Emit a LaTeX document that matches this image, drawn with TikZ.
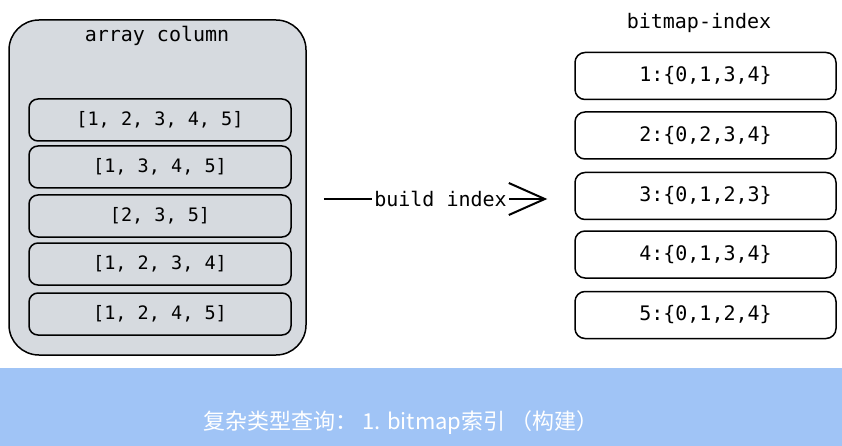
\documentclass[tikz,border=0pt]{standalone}
\usepackage{fontspec}
\setmonofont{DejaVu Sans Mono}
\newfontfamily\cjk{Noto Sans CJK SC}
\usetikzlibrary{arrows.meta}
\definecolor{colgray}{RGB}{214,218,223}
\definecolor{bandblue}{RGB}{160,196,246}

\begin{document}
\begin{tikzpicture}[
x=1pt,y=-1pt,
every node/.style={anchor=center,inner sep=0pt},
title/.style={font=\ttfamily\fontsize{20}{24}\selectfont},
column/.style={draw,line width=1.5pt,fill=colgray,rounded corners=30pt,minimum width=297pt,minimum height=335pt},
cell/.style={draw,line width=1.5pt,rounded corners=9pt,minimum width=262pt,minimum height=42pt,font=\ttfamily\fontsize{18.5}{22}\selectfont},
bit/.style={draw,line width=1.5pt,rounded corners=10pt,minimum width=261pt,minimum height=47pt,font=\ttfamily\fontsize{20}{24}\selectfont},
]
\useasboundingbox (0,0) rectangle (842,446);
%\draw[help lines,step=50](0,0)grid(842,446);

%array column
\node[column] (col) at (157.5,187.5) {};
\node[title] (coltitle) at (157,36) {array column};
\node[cell] (a1) at (160,120) {[1, 2, 3, 4, 5]};
\node[cell] (a2) at (160,167) {[1, 3, 4, 5]};
\node[cell] (a3) at (160,216) {[2, 3, 5]};
\node[cell] (a4) at (160,264) {[1, 2, 3, 4]};
\node[cell] (a5) at (160,314) {[1, 2, 4, 5]};

%bitmap-index
\node[title] (bittitle) at (699,23) {bitmap-index};
\node[bit] (b1) at (705.5,76) {1:\{0,1,3,4\}};
\node[bit] (b2) at (705.5,135.5) {2:\{0,2,3,4\}};
\node[bit] (b3) at (705.5,196) {3:\{0,1,2,3\}};
\node[bit] (b4) at (705.5,254.5) {4:\{0,1,3,4\}};
\node[bit] (b5) at (705.5,315) {5:\{0,1,2,4\}};

%build index
\draw[line width=2pt,shorten <=17pt,shorten >=27pt,-{Straight Barb[length=36pt,width=32pt,line width=2pt]}]
  (col.east|-0,199) -- node[title,fill=white,inner xsep=2pt] (build) {build index} (b3.west|-0,199);

%caption
\fill[bandblue] (0,368) rectangle (842,446);
\node[text=white,font=\cjk\fontsize{22}{26}\selectfont] (caption) at (401,423) {复杂类型查询： 1. bitmap索引 （构建）};

\end{tikzpicture}
\end{document}
